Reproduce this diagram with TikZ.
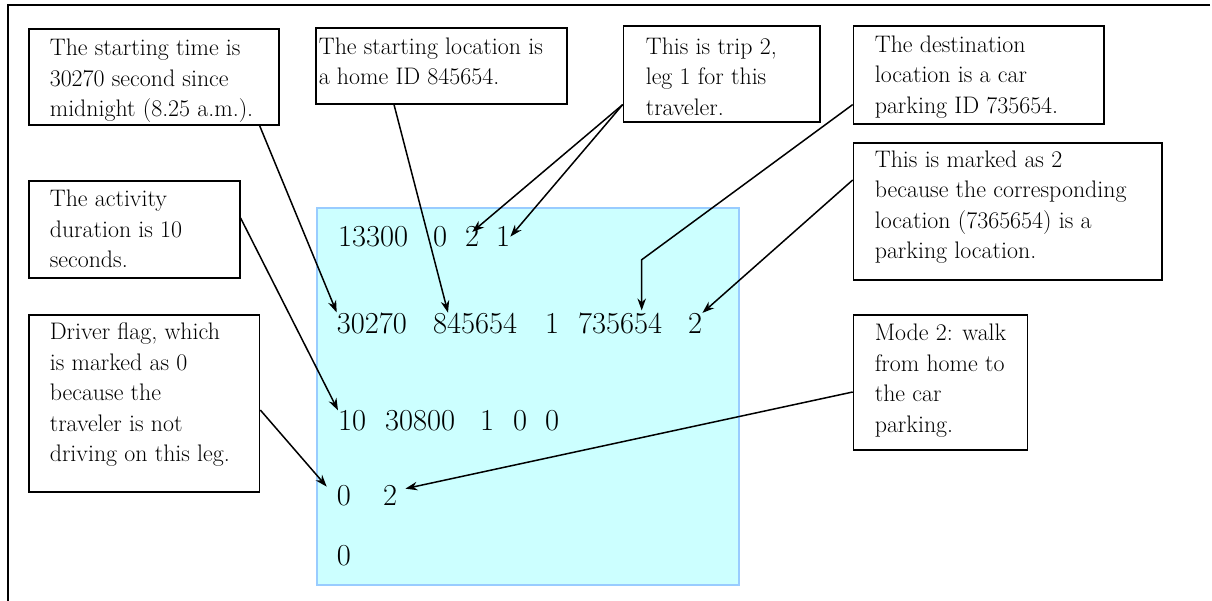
\documentclass[tikz,border=0pt]{standalone}
\usetikzlibrary{arrows.meta,calc}
\definecolor{datafill}{HTML}{CCFFFF}
\definecolor{dataline}{HTML}{99CCFF}
% width, height, left pad, top pad, lines
\newcommand\btxt[5]{\parbox[c][#2pt][t]{#1pt}{\vspace*{#4pt}\hspace*{#3pt}\begin{tabular}[t]{@{}l@{}}#5\end{tabular}}}
\begin{document}
\begin{tikzpicture}[x=1pt,y=-1pt,
  note/.style={draw,line width=1.6pt,inner sep=0pt,anchor=north west,font=\fontsize{23.9}{30.5}\selectfont},
  tok/.style={inner sep=0pt,anchor=base west,font=\fontsize{30.5}{35}\selectfont},
  arr/.style={-{Stealth[length=12pt,width=8.5pt]},line width=1.5pt},
  frameline/.style={line width=1.7pt},
  databox/.style={draw=dataline,fill=datafill,line width=2pt,inner sep=0pt,anchor=north west}]
\useasboundingbox (0,0) rectangle (1212,601);
% outer frame (top and left sides)
\coordinate (fr) at (1210,5);
\coordinate (ftl) at (8,5);
\coordinate (fbl) at (8,601);
\draw[frameline] (fr) -- (ftl) -- (fbl);
% data panel
\node[databox,minimum width=422.6pt,minimum height=377.6pt] (data) at (315.7,206.7) {};
% tokens
\node[tok] (r1a) at (338,246.7) {13300};
\node[tok] (r1b) at (433,246.7) {0};
\node[tok] (r1c) at (465,246.7) {2};
\node[tok] (r1d) at (496,246.7) {1};
\node[tok] (r2a) at (336.7,333.3) {30270};
\node[tok] (r2b) at (433,333.3) {845654};
\node[tok] (r2c) at (545,333.3) {1};
\node[tok] (r2d) at (578,333.3) {735654};
\node[tok] (r2e) at (688,333.3) {2};
\node[tok] (r3a) at (338,430.7) {10};
\node[tok] (r3b) at (385,430.7) {30800};
\node[tok] (r3c) at (480,430.7) {1};
\node[tok] (r3d) at (513,430.7) {0};
\node[tok] (r3e) at (545,430.7) {0};
\node[tok] (r4a) at (336.7,505) {0};
\node[tok] (r4b) at (383,505) {2};
\node[tok] (r5a) at (336.7,565.7) {0};
% note boxes
\node[note] (b1) at (28,28) {\btxt{250}{96}{21}{5.6}{The starting time is\\30270 second since\\midnight (8.25 a.m.).}};
\node[note] (b2) at (315,27) {\btxt{251}{76}{3}{5}{The starting location is\\a home ID 845654.}};
\node[note] (b3) at (622.7,25) {\btxt{196.3}{96}{22.3}{7}{This is trip 2,\\leg 1 for this\\traveler.}};
\node[note] (b4) at (852.7,25) {\btxt{250.3}{98}{21.3}{5.3}{The destination\\location is a car\\parking ID 735654.}};
\node[note] (b5) at (852.7,142) {\btxt{308.3}{137}{21.3}{3.3}{This is marked as 2\\because the corresponding\\location (7365654) is a\\parking location.}};
\node[note] (b6) at (852.7,314) {\btxt{174}{135}{21.3}{4.6}{Mode 2: walk\\from home to\\the car\\parking.}};
\node[note] (b7) at (28,180) {\btxt{211}{97}{21}{4.7}{The activity\\duration is 10\\seconds.}};
\node[note] (b8) at (28,314) {\btxt{230.7}{177}{21}{3.7}{Driver flag, which\\is marked as 0\\because the\\traveler is not\\driving on this leg.}};
% connectors
\draw[arr] ($(b1.south east)+(-20,0)$) -- (r2a.north west);
\draw[arr] ($(b2.south west)+(79,0)$) -- ($(r2b.north west)+(15,0)$);
\draw[arr] ($(b3.south west)+(0,-18)$) -- ($(r1c.north)+(0,5.6)$);
\draw[arr] ($(b3.south west)+(0,-18)$) -- (r1d.east);
\draw[arr] ($(b4.south west)+(0,-20)$) -- ($(r2d.north west)+(63.7,-52.7)$) -- ($(r2d.north west)+(63.7,-2)$);
\draw[arr] ($(b5.north west)+(0,38)$) -- (r2e.north east);
\draw[arr] ($(b7.north east)+(0,38)$) -- (r3a.north west);
\draw[arr] ($(b8.north east)+(0,96)$) -- ($(r4a.north west)+(-10,2)$);
\draw[arr] ($(b6.north west)+(0,78)$) -- ($(r4b.north east)+(8,4)$);
\end{tikzpicture}
\end{document}
